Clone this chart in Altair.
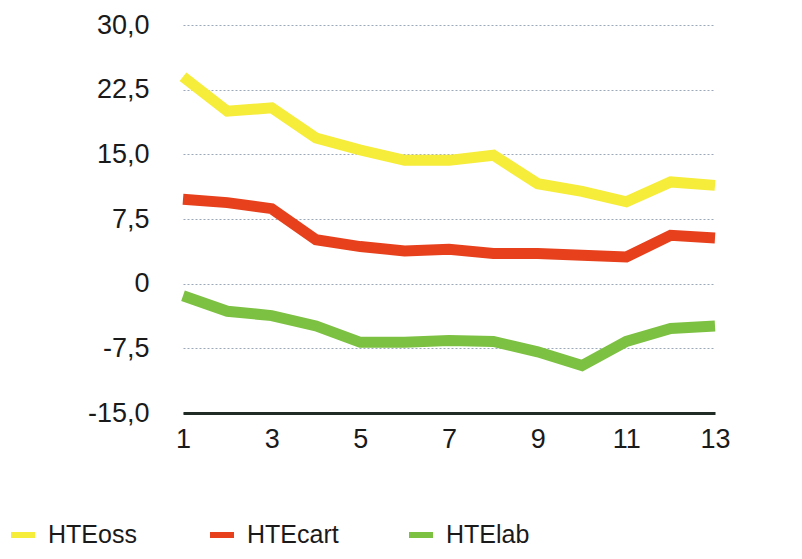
import altair as alt
import pandas as pd

periods = list(range(1, 14))
hte_oss = [24.0, 20.0, 20.4, 16.9, 15.5, 14.3, 14.3, 14.9, 11.6, 10.7, 9.5, 11.8, 11.4]
hte_cart = [9.8, 9.4, 8.7, 5.1, 4.3, 3.8, 4.0, 3.5, 3.5, 3.3, 3.1, 5.6, 5.3]
hte_lab = [-1.4, -3.2, -3.7, -4.9, -6.8, -6.8, -6.6, -6.7, -7.9, -9.5, -6.7, -5.2, -4.9]
series_names = ["HTEoss", "HTEcart", "HTElab"]
series_colors = ["#f6ec3a", "#e6401c", "#7dc142"]
y_ticks = [-15, -7.5, 0, 7.5, 15, 22.5, 30]
x_ticks = [1, 3, 5, 7, 9, 11, 13]

rows = []
for name, vals in zip(series_names, [hte_oss, hte_cart, hte_lab]):
    for p, v in zip(periods, vals):
        rows.append({"period": p, "value": v, "series": name})
df = pd.DataFrame(rows)

FONT = "Liberation Sans"

chart = alt.Chart(df).mark_line(strokeWidth=11, strokeCap="butt", strokeJoin="miter").encode(
    x=alt.X("period:Q",
            scale=alt.Scale(domain=[1, 13], nice=False, zero=False),
            axis=alt.Axis(values=x_ticks, grid=False, ticks=False, domainColor="#1f2b24",
                          domainWidth=3, labelFontSize=27, labelPadding=13, labelColor="#1a1a1a",
                          labelFont=FONT, title=None, format="d", labelFlush=False)),
    y=alt.Y("value:Q",
            scale=alt.Scale(domain=[-15, 30], nice=False, zero=False),
            axis=alt.Axis(values=y_ticks, grid=True, gridColor="#9aa8ba", gridDash=[2, 2],
                          gridWidth=1, ticks=False, domain=False, labelFontSize=27,
                          labelPadding=34, labelColor="#1a1a1a", labelFont=FONT, title=None,
                          labelExpr="(datum.value < 0 ? '-' : '') + (datum.value == 0 ? '0' : replace(format(abs(datum.value), '.1f'), '.', ','))")),
    color=alt.Color("series:N",
                    scale=alt.Scale(domain=series_names, range=series_colors),
                    sort=series_names,
                    legend=alt.Legend(orient="none", legendX=-175, legendY=495,
                                      direction="horizontal", columns=3, title=None,
                                      symbolType="stroke", symbolStrokeWidth=6, symbolSize=576,
                                      labelFontSize=25, labelFont=FONT, labelColor="#1a1a1a",
                                      columnPadding=58, gridAlign="all", labelOffset=10,
                                      padding=0, symbolOpacity=1)),
).properties(
    width=532, height=388,
    background="white",
    autosize=alt.AutoSizeParams(type="none"),
    padding={"left": 175, "top": 17, "right": 79, "bottom": 138},
).configure_view(stroke=None, strokeWidth=0)

chart.save("out.html", embed_options={"renderer": "svg", "actions": False})
